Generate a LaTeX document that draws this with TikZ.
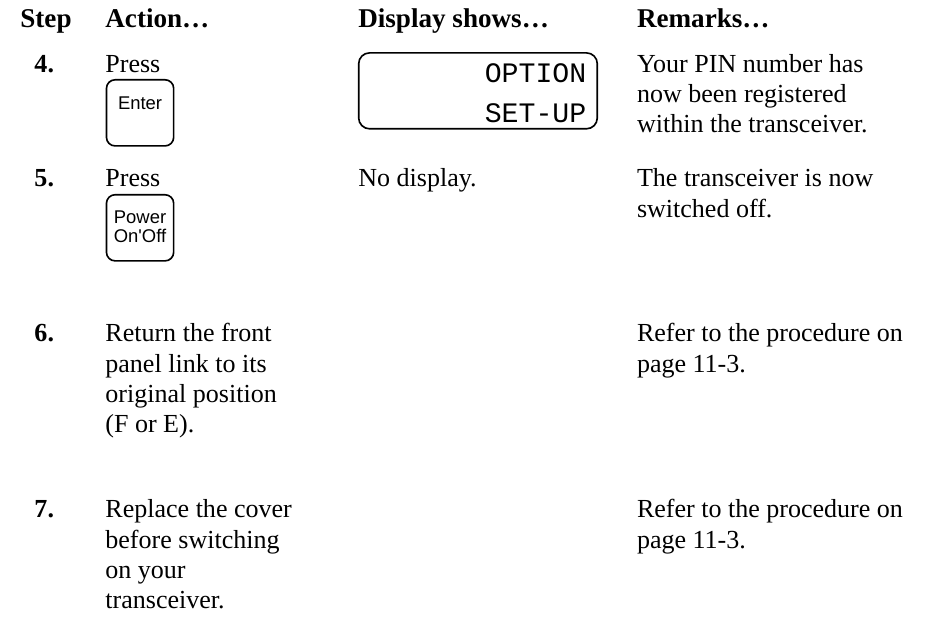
\documentclass[tikz,border=0pt]{standalone}
\usepackage{fontspec}
\setmainfont{Liberation Serif}
\newfontfamily\keyfont[Ligatures=TeXOff]{Liberation Sans}
\newfontfamily\lcdfont{Liberation Mono}

\tikzset{
	txt/.style = {anchor = base west, inner sep = 0pt, font = \fontsize{12}{14}\selectfont},
	head/.style = {txt, font = \fontsize{12.5}{14}\selectfont\bfseries},
	num/.style = {txt, font = \fontsize{12}{14}\selectfont\bfseries},
	keybox/.style = {draw, rounded corners = 4pt, line width = 0.75pt, anchor = north west, inner sep = 0pt, minimum width = 31pt, minimum height = 30.5pt},
	keytext/.style = {anchor = base, inner sep = 0pt, font = \fontsize{8.5}{9.2}\selectfont\keyfont},
	lcd/.style = {draw, rounded corners = 5pt, line width = 0.75pt, anchor = north west, inner sep = 0pt, minimum width = 110pt, minimum height = 35pt},
	lcdtext/.style = {anchor = base east, inner sep = 0pt, font = \fontsize{13}{13}\selectfont\lcdfont}
}

\begin{document}
\begin{tikzpicture}[x = 1pt, y = -1pt]

\useasboundingbox (0,0) rectangle (432, 293);

\node[head] (hstep) at (9.2, 12.7) {Step};
\node[head] (haction) at (48.4, 12.7) {Action…};
\node[head] (hdisplay) at (165, 12.7) {Display shows…};
\node[head] (hremarks) at (293.5, 12.7) {Remarks…};

\foreach \n/\y in {4/33.2, 5/86.2, 6/157.6, 7/238.7} {
	\node[num] (step\n) at (15.7, \y) {\n.};
}

% step 4
\node[txt] (press4) at (48.4, 33.2) {Press};
\node[keybox] (enter) at (48.7, 36.4) {};
\node[keytext] (enterlbl) at ([yshift = -14.3pt]enter.north) {Enter};

\node[lcd] (lcd) at (165, 24) {};
\node[lcdtext] (lcdtop) at (270.5, 38) {OPTION};
\node[lcdtext] (lcdbot) at (270.5, 56.7) {SET-UP};

\foreach \t[count = \i from 0] in {Your PIN number has, now been registered, within the transceiver.} {
	\node[txt] (rem4-\i) at (293.5, 33.2 + 14*\i) {\t};
}

% step 5
\node[txt] (press5) at (48.4, 86.2) {Press};
\node[keybox] (power) at (48.7, 89.4) {};
\node[keytext] (powerlbl) at ([yshift = -13.5pt]power.north) {Power};
\node[keytext] (onofflbl) at ([yshift = -22.6pt]power.north) {On'Off};

\node[txt] (nodisp) at (165, 86.2) {No display.};

\foreach \t[count = \i from 0] in {The transceiver is now, switched off.} {
	\node[txt] (rem5-\i) at (293.5, 86.2 + 14*\i) {\t};
}

% step 6
\foreach \t[count = \i from 0] in {Return the front, panel link to its, original position, (F or E).} {
	\node[txt] (act6-\i) at (48.4, 157.6 + 14*\i) {\t};
}
\foreach \t[count = \i from 0] in {Refer to the procedure on, page 11-3.} {
	\node[txt] (rem6-\i) at (293.5, 157.6 + 14*\i) {\t};
}

% step 7
\foreach \t[count = \i from 0] in {Replace the cover, before switching, on your, transceiver.} {
	\node[txt] (act7-\i) at (48.4, 238.7 + 14*\i) {\t};
}
\foreach \t[count = \i from 0] in {Refer to the procedure on, page 11-3.} {
	\node[txt] (rem7-\i) at (293.5, 238.7 + 14*\i) {\t};
}

\end{tikzpicture}
\end{document}
